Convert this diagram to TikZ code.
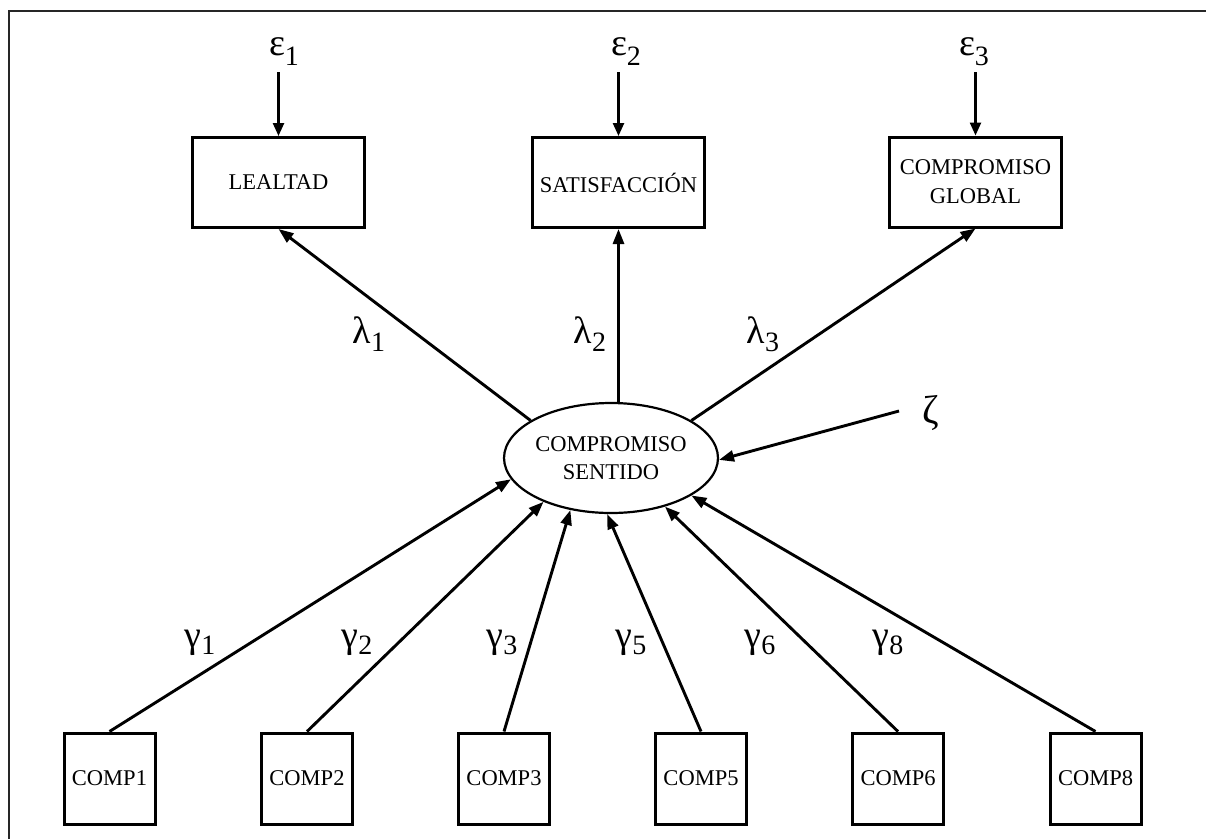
\documentclass[tikz,border=0pt]{standalone}
\usepackage{fontspec}
\setmainfont{Liberation Serif}
\usetikzlibrary{arrows.meta,shapes.geometric}

% Greek symbol with a lowered index digit
\newcommand\grk[3]{{\fontsize{38}{38}\selectfont #1}\raisebox{-#3}{\fontsize{28}{28}\selectfont #2}}

\begin{document}
\begin{tikzpicture}[x=1pt,y=-1pt,
  box/.style={draw,line width=3pt,minimum width=172pt,minimum height=90pt,inner sep=0pt,
    align=center,font=\fontsize{22.5}{29}\selectfont},
  ind/.style={draw,line width=3pt,minimum width=91pt,minimum height=91pt,inner sep=0pt,
    font=\fontsize{22.5}{26}\selectfont},
  lat/.style={ellipse,draw,line width=2.2pt,minimum width=212pt,minimum height=110pt,inner sep=0pt,
    align=center,font=\fontsize{22.5}{28}\selectfont},
  conn/.style={line width=2.9pt,-{Triangle[length=15pt,width=11pt]}},
  earr/.style={line width=2.4pt,-{Triangle[length=13pt,width=11pt]}},
  lbl/.style={inner sep=0pt}
]
\useasboundingbox (0,0) rectangle (1206,839);

% frame
\draw[line width=2pt,draw=black!85] (9,839) -- (9,11) -- (1206,11);

% endogenous indicators
\node[box] (lea) at (278.5,182.5) {LEALTAD};
\node[box] (sat) at (618.5,182.5) {SATISFACCIÓN};
\node[box] (glo) at (975.5,182) {COMPROMISO\\GLOBAL};

% latent construct
\node[lat] (cs) at (611,458) {COMPROMISO\\SENTIDO};

% formative indicators
\node[ind] (c1) at (109.5,778.5) {COMP1};
\node[ind] (c2) at (307,778.5) {COMP2};
\node[ind] (c3) at (504,778.5) {COMP3};
\node[ind] (c5) at (701,778.5) {COMP5};
\node[ind] (c6) at (898,778.5) {COMP6};
\node[ind] (c8) at (1095.5,778.5) {COMP8};

% error terms
\node[lbl] (e1) at (284,52) {\grk{ε}{1}{10pt}};
\node[lbl] (e2) at (626,52) {\grk{ε}{2}{10pt}};
\node[lbl] (e3) at (974,52) {\grk{ε}{3}{10pt}};
\draw[earr] (lea.north |- 0,72) -- (lea.north);
\draw[earr] (sat.north |- 0,72) -- (sat.north);
\draw[earr] (glo.north |- 0,72) -- (glo.north);

% loadings
\draw[conn] (cs.155) -- (lea.south);
\draw[conn] (sat.south |- cs.north) -- (sat.south);
\draw[conn] (cs.25) -- (glo.south);
\node[lbl] (l1) at (369,334) {\grk{λ}{1}{8pt}};
\node[lbl] (l2) at (590,334) {\grk{λ}{2}{8pt}};
\node[lbl] (l3) at (763,334) {\grk{λ}{3}{8pt}};

% disturbance
\node[lbl] (z) at (931,413) {\fontsize{40}{40}\selectfont ζ};
\coordinate (zs) at (899,411);
\draw[conn] (zs) -- (cs.359);

% structural paths
\draw[conn] (c1.north) -- (cs.192);
\draw[conn] (c2.north) -- (cs.213.5);
\draw[conn] (c3.north) -- (cs.232);
\draw[conn] (c5.north) -- (cs.266);
\draw[conn] (c6.north) -- (cs.318);
\draw[conn] (c8.north) -- (cs.335.5);
\node[lbl] (g1) at (200,643) {\grk{γ}{1}{7pt}};
\node[lbl] (g2) at (357,643) {\grk{γ}{2}{7pt}};
\node[lbl] (g3) at (502,643) {\grk{γ}{3}{7pt}};
\node[lbl] (g5) at (631,643) {\grk{γ}{5}{7pt}};
\node[lbl] (g6) at (760,643) {\grk{γ}{6}{7pt}};
\node[lbl] (g8) at (888,643) {\grk{γ}{8}{7pt}};
\end{tikzpicture}
\end{document}
